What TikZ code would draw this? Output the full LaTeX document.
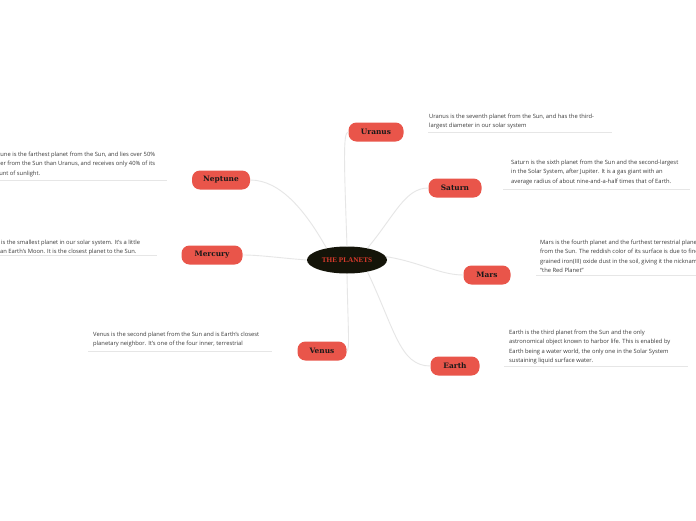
\documentclass[tikz,border=0pt]{standalone}
\usepackage{fontspec}
\setmainfont{Open Sans}
\newfontfamily\slabfont{DejaVu Serif}
\newfontfamily\titlefont{Liberation Serif}
\usetikzlibrary{shapes.geometric}
\definecolor{planet}{HTML}{E9554A}
\definecolor{linec}{HTML}{E6E6E6}
\definecolor{desc}{HTML}{3A3A3A}
\definecolor{hub}{HTML}{141409}
\definecolor{titlered}{HTML}{D93A2C}
\tikzset{
  planetbox/.style={rounded corners=8pt, fill=planet, minimum height=19pt, inner sep=0pt,
    font=\slabfont\bfseries\fontsize{7.4}{8}\selectfont, text=black!90},
  desctext/.style={anchor=north west, align=left, inner sep=0pt,
    font=\fontsize{5.8}{9.3}\selectfont, text=desc},
  connector/.style={draw=linec, line width=0.9pt},
  underline/.style={draw=linec, line width=0.9pt}
}
\begin{document}
\begin{tikzpicture}[x=1pt,y=-1pt]
\useasboundingbox (0,0) rectangle (696,520);
\clip (0,0) rectangle (696,520);
\fill[white] (0,0) rectangle (696,520);

% hub
\node[ellipse, fill=hub, minimum width=80pt, minimum height=27pt, inner sep=0pt,
  text=titlered, font=\titlefont\bfseries\fontsize{7.2}{8}\selectfont] (hubnode) at (347,260) {THE PLANETS};

% planets
\node[planetbox, minimum width=55pt] (uranus) at (376,132) {Uranus};
\node[planetbox, minimum width=53pt] (saturn) at (455,188) {Saturn};
\node[planetbox, minimum width=47pt] (mars) at (487,275) {Mars};
\node[planetbox, minimum width=49pt] (earth) at (455,366) {Earth};
\node[planetbox, minimum width=58pt] (neptune) at (221,180) {Neptune};
\node[planetbox, minimum width=61pt] (mercury) at (212,255) {Mercury};
\node[planetbox, minimum width=49pt] (venus) at (322,351) {Venus};

% connectors
\draw[connector] (hubnode.north) .. controls (344,160) and (343,132) .. (uranus.west);
\draw[connector] (hubnode.30) .. controls (395,215) and (405,188) .. (saturn.west);
\draw[connector] (hubnode.5) .. controls (420,262) and (440,275) .. (mars.west);
\draw[connector] (hubnode.-30) .. controls (395,330) and (400,366) .. (earth.west);
\draw[connector] (hubnode.150) .. controls (305,210) and (280,180) .. (neptune.east);
\draw[connector] (hubnode.west) .. controls (280,258) and (260,255) .. (mercury.east);
\draw[connector] (hubnode.south) .. controls (348,330) and (350,351) .. (venus.east);

% descriptions
\node[desctext] (duranus) at (429,114) {Uranus is the seventh planet from the Sun, and has the third-\\largest diameter in our solar system};
\node[desctext] (dsaturn) at (511,160) {Saturn is the sixth planet from the Sun and the second-largest\\in the Solar System, after Jupiter. It is a gas giant with an\\average radius of about nine-and-a-half times that of Earth.};
\node[desctext] (dmars) at (540,240) {Mars is the fourth planet and the furthest terrestrial planet\\from the Sun. The reddish color of its surface is due to finely\\grained iron(III) oxide dust in the soil, giving it the nickname\\``the Red Planet''};
\node[desctext] (dearth) at (509,330) {Earth is the third planet from the Sun and the only\\astronomical object known to harbor life. This is enabled by\\Earth being a water world, the only one in the Solar System\\sustaining liquid surface water.};
\node[desctext] (dneptune) at (-13,152) {Neptune is the farthest planet from the Sun, and lies over 50\%\\farther from the Sun than Uranus, and receives only 40\% of its\\amount of sunlight.};
\node[desctext] (dmercury) at (-23,240) {Mercury is the smallest planet in our solar system. It's a little\\larger than Earth's Moon. It is the closest planet to the Sun.};
\node[desctext] (dvenus) at (93,332) {Venus is the second planet from the Sun and is Earth's closest\\planetary neighbor. It's one of the four inner, terrestrial};

% underlines
\coordinate (ua) at (428,132); \coordinate (ub) at (612,132);
\coordinate (sa) at (503,189); \coordinate (sb) at (690,189);
\coordinate (ma) at (536,275); \coordinate (mb) at (696,275);
\coordinate (ea) at (504,366); \coordinate (eb) at (688,366);
\coordinate (na) at (0,180); \coordinate (nb) at (167,180);
\coordinate (mea) at (0,255); \coordinate (meb) at (157,255);
\coordinate (va) at (88,351); \coordinate (vb) at (272,351);
\draw[underline] (ua) -- (ub);
\draw[underline] (sa) -- (sb);
\draw[underline] (ma) -- (mb);
\draw[underline] (ea) -- (eb);
\draw[underline] (na) -- (nb);
\draw[underline] (mea) -- (meb);
\draw[underline] (va) -- (vb);
\end{tikzpicture}
\end{document}
